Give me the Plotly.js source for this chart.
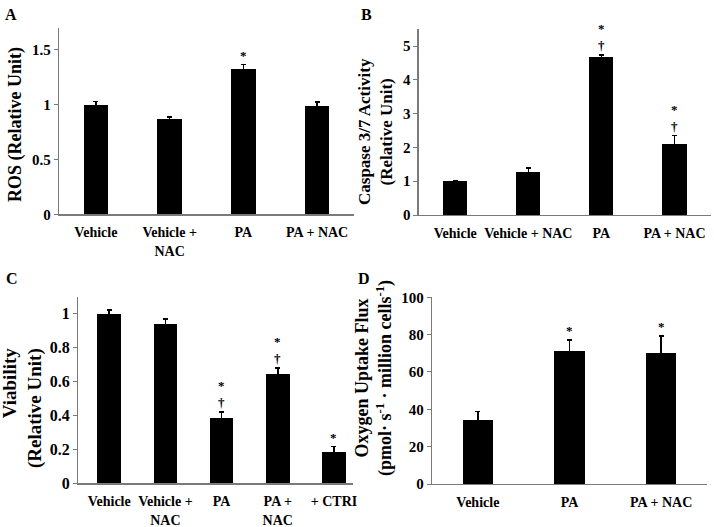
<!DOCTYPE html>
<html>
<head>
<meta charset="utf-8">
<script src="https://cdn.plot.ly/plotly-3.0.1.min.js"></script>
<style>html,body{margin:0;padding:0;background:#fff;}#chart{width:714px;height:527px;}</style>
</head>
<body>
<div id="chart"></div>
<script>
// ---- Panel A: ROS ----
const catsA = ['Vehicle', 'Vehicle +<br>NAC', 'PA', 'PA + NAC'];
const valsA = [1.00, 0.87, 1.33, 0.99];
const errA  = [0.03, 0.02, 0.035, 0.035];
const starA = ['', '', '*', ''];
const dagA  = ['', '', '', ''];

// ---- Panel B: Caspase 3/7 ----
const catsB = ['Vehicle', 'Vehicle + NAC', 'PA', 'PA + NAC'];
const valsB = [1.00, 1.28, 4.67, 2.09];
const errB  = [0.02, 0.11, 0.07, 0.26];
const starB = ['', '', '*', '*'];
const dagB  = ['', '', '†', '†'];

// ---- Panel C: Viability ----
const catsC = ['Vehicle', 'Vehicle +<br>NAC', 'PA', 'PA +<br>NAC', '+ CTRI'];
const valsC = [1.00, 0.937, 0.383, 0.644, 0.186];
const errC  = [0.02, 0.03, 0.037, 0.034, 0.03];
const starC = ['', '', '*', '*', '*'];
const dagC  = ['', '', '†', '†', ''];

// ---- Panel D: Oxygen uptake ----
const catsD = ['Vehicle', 'PA', 'PA + NAC'];
const valsD = [34.1, 71.2, 70.2];
const errD  = [4.8, 5.9, 9.1];
const starD = ['', '*', '*'];
const dagD  = ['', '', ''];

const FONT = 'Liberation Serif, Times New Roman, serif';
const AXC = '#7a7a7a';

function barTrace(cats, vals, errs, xa, ya, w) {
  return {
    type: 'bar', x: cats, y: vals, xaxis: xa, yaxis: ya, width: w,
    marker: {color: '#000', line: {width: 0}},
    error_y: {type: 'data', array: errs, visible: true, color: '#000', thickness: 1.5, width: 2.5},
    showlegend: false, hoverinfo: 'skip'
  };
}

function xAx(domain, range, anchor) {
  return {domain: domain, range: range, anchor: anchor, type: 'category',
    showline: true, linecolor: AXC, linewidth: 1.3, ticks: '', showgrid: false, zeroline: false,
    ticklabelstandoff: 5,
    tickfont: {family: FONT, size: 14, color: '#000', weight: 'bold'}, fixedrange: true};
}
function yAx(domain, range, dtick, anchor, fsz) {
  return {domain: domain, range: range, anchor: anchor, dtick: dtick,
    showline: true, linecolor: AXC, linewidth: 1.3, ticks: 'outside', ticklen: 4, tickcolor: AXC,
    showgrid: false, zeroline: false,
    tickfont: {family: FONT, size: fsz || 15, color: '#000', weight: 'bold'}, fixedrange: true};
}

const W = 714, H = 527;
const px = v => v / W;
const py = v => 1 - v / H;

const data = [
  barTrace(catsA, valsA, errA, 'x', 'y', 0.33),
  barTrace(catsB, valsB, errB, 'x2', 'y2', 0.33),
  barTrace(catsC, valsC, errC, 'x3', 'y3', 0.42),
  barTrace(catsD, valsD, errD, 'x4', 'y4', 0.33)
];

const annotations = [];
const SIGFONT = {family: FONT, size: 13, color: 'black', weight: 'bold'};
function sig(cats, vals, errs, stars, dags, xr, yr) {
  cats.forEach((c, i) => {
    const top = vals[i] + errs[i];
    if (dags[i]) annotations.push({x: c, y: top, xref: xr, yref: yr, text: dags[i], showarrow: false,
      yanchor: 'bottom', yshift: 0, font: SIGFONT});
    if (stars[i]) annotations.push({x: c, y: top, xref: xr, yref: yr, text: stars[i], showarrow: false,
      yanchor: 'bottom', yshift: dags[i] ? 17 : 0, font: SIGFONT});
  });
}
sig(catsA, valsA, errA, starA, dagA, 'x', 'y');
sig(catsB, valsB, errB, starB, dagB, 'x2', 'y2');
sig(catsC, valsC, errC, starC, dagC, 'x3', 'y3');
sig(catsD, valsD, errD, starD, dagD, 'x4', 'y4');

function lab(t, x, y, size, extra) {
  annotations.push(Object.assign({text: t, x: px(x), y: py(y), xref: 'paper', yref: 'paper', showarrow: false,
    xanchor: 'center', yanchor: 'middle', font: {family: FONT, size: size, color: 'black', weight: 'bold'}}, extra || {}));
}
// panel letters
lab('A', 11, 15, 16);
lab('B', 367, 15, 16);
lab('C', 12, 278, 16);
lab('D', 364, 278, 16);
// y titles
lab('ROS (Relative Unit)', 15, 125, 18, {textangle: -90});
lab('Caspase 3/7 Activity<br>(Relative Unit)', 375, 132, 17, {textangle: -90});
lab('Viability<br>(Relative Unit)', 22, 408, 19, {textangle: -90, align: 'right'});
lab('Oxygen Uptake Flux<br>(pmol· s<sup>-1</sup> · million cells<sup>-1</sup>)', 374, 378, 18, {textangle: -90});

const layout = {
  width: W, height: H, margin: {l: 0, r: 0, t: 0, b: 0},
  paper_bgcolor: '#fff', plot_bgcolor: '#fff', showlegend: false, bargap: 0,
  font: {family: FONT, color: 'black'},
  xaxis:  xAx([px(59), px(354)], [-0.5, 3.5], 'y'),
  yaxis:  yAx([py(214.3), py(28)], [0, 1.7], 0.5, 'x'),
  xaxis2: xAx([px(418.7), px(711)], [-0.5, 3.5], 'y2'),
  yaxis2: yAx([py(215), py(29.3)], [0, 5.5], 1, 'x2'),
  xaxis3: xAx([px(78.3), px(352.5)], [-0.55, 4.33], 'y3'),
  yaxis3: yAx([py(483.3), py(296.6)], [0, 1.1], 0.2, 'x3', 16),
  xaxis4: xAx([px(432), px(707)], [-0.5, 2.5], 'y4'),
  yaxis4: yAx([py(484), py(297.3)], [0, 100], 20, 'x4', 15),
  annotations: annotations
};

Plotly.newPlot('chart', data, layout, {staticPlot: true, displayModeBar: false});
</script>
</body>
</html>
